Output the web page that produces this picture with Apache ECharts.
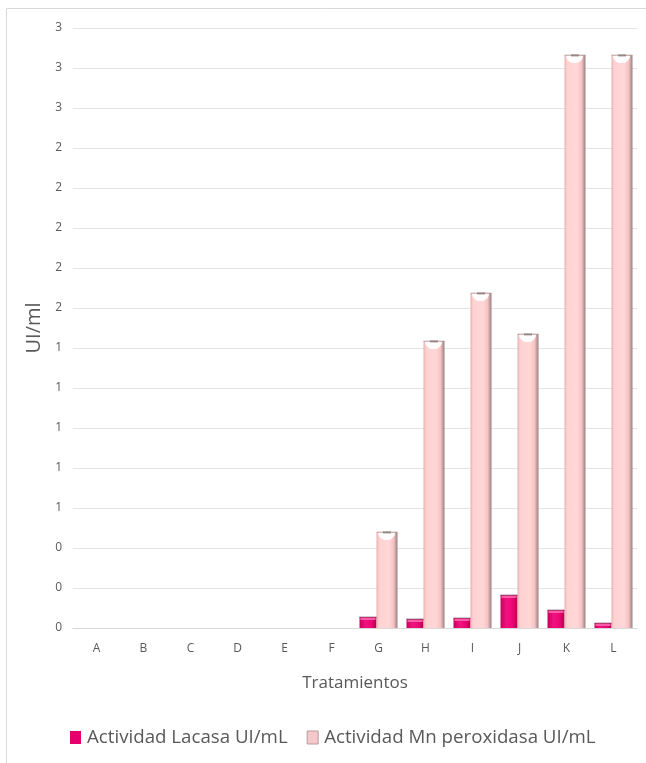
<!DOCTYPE html>
<html>
<head>
<meta charset="utf-8">
<script src="https://cdn.jsdelivr.net/npm/echarts@6/dist/echarts.min.js"></script>
<style>
  html, body { margin: 0; padding: 0; background: #ffffff; }
  #chart { width: 646px; height: 763px; }
</style>
</head>
<body>
<div id="chart"></div>
<script>
// Tratamientos (eje X)
const categories = ['A', 'B', 'C', 'D', 'E', 'F', 'G', 'H', 'I', 'J', 'K', 'L'];
// Actividad enzimática (UI/mL) por tratamiento
const lacasa = [0, 0, 0, 0, 0, 0, 0.055, 0.045, 0.05, 0.165, 0.09, 0.025];
const mnPeroxidasa = [0, 0, 0, 0, 0, 0, 0.48, 1.435, 1.675, 1.47, 2.865, 2.865];
// Nombres de las series
const seriesNames = ['Actividad Lacasa UI/mL', 'Actividad Mn peroxidasa UI/mL'];

const FONT = '"Open Sans", "Noto Sans", sans-serif';
const LAC_W = 17;
const MN_W = 21;

const chart = echarts.init(document.getElementById('chart'), null, { renderer: 'canvas' });

const lacasaFill = new echarts.graphic.LinearGradient(0, 0, 1, 0, [
  { offset: 0, color: '#C8005C' },
  { offset: 0.35, color: '#F2127F' },
  { offset: 0.7, color: '#EA0874' },
  { offset: 1, color: '#B8004F' }
]);
const mnFill = new echarts.graphic.LinearGradient(0, 0, 1, 0, [
  { offset: 0, color: '#E8AEAE' },
  { offset: 0.12, color: '#FFD2D2' },
  { offset: 0.6, color: '#FFD6D6' },
  { offset: 0.82, color: '#F4C2C2' },
  { offset: 1, color: '#978080' }
]);

// Centre of each bar within a category group
function mnCentre(catX) {
  return catX - (LAC_W + MN_W) / 2 + LAC_W + MN_W / 2;
}
function lacCentre(catX) {
  return catX - (LAC_W + MN_W) / 2 + LAC_W / 2;
}

// Cap drawn on top of each Mn peroxidasa bar (highlight + rim)
function renderMnCap(params, api) {
  const v = api.value(1);
  if (!v) return null;
  const top = api.coord([api.value(0), v]);
  const mid = mnCentre(top[0]);
  const l = mid - MN_W / 2 + 1.5;
  const r = mid + MN_W / 2 - 2.5;
  const y = top[1];
  const c = (l + r) / 2;
  return {
    type: 'group',
    children: [
      {
        type: 'path',
        shape: {
          pathData: 'M' + l + ' ' + (y + 1) +
            ' L' + r + ' ' + (y + 1) +
            ' Q' + r + ' ' + (y + 5) + ' ' + (c + 3) + ' ' + (y + 8) +
            ' L' + (c - 3) + ' ' + (y + 8) +
            ' Q' + l + ' ' + (y + 5) + ' ' + l + ' ' + (y + 1) + ' Z'
        },
        style: { fill: '#FFFFFF', opacity: 0.95 }
      },
      {
        type: 'rect',
        shape: { x: mid - 4, y: y - 0.5, width: 8, height: 1.8 },
        style: { fill: '#7A7070' }
      },
      {
        type: 'rect',
        shape: { x: l - 1.5, y: y - 0.3, width: r - l + 4, height: 0.8 },
        style: { fill: '#B09A9A' }
      }
    ]
  };
}

// Lighter top face on each Lacasa bar
function renderLacCap(params, api) {
  const v = api.value(1);
  if (!v) return null;
  const top = api.coord([api.value(0), v]);
  const mid = lacCentre(top[0]);
  const y = top[1];
  return {
    type: 'group',
    children: [
      {
        type: 'rect',
        shape: { x: mid - LAC_W / 2 + 1, y: y + 0.5, width: LAC_W - 2, height: 2.5 },
        style: { fill: '#FF5AA8' }
      },
      {
        type: 'rect',
        shape: { x: mid - LAC_W / 2, y: y - 0.3, width: LAC_W, height: 0.9 },
        style: { fill: '#8A4060' }
      }
    ]
  };
}

chart.setOption({
  animation: false,
  backgroundColor: '#ffffff',
  graphic: [
    {
      type: 'rect',
      shape: { x: 6.5, y: 8.5, width: 700, height: 800 },
      style: { fill: 'none', stroke: '#D9D9D9', lineWidth: 1 },
      z: -1
    }
  ],
  grid: { left: 73, right: 9, top: 28, bottom: 135 },
  legend: {
    data: [
      { name: seriesNames[0], itemStyle: { color: '#E6006E', borderWidth: 0 } },
      { name: seriesNames[1], itemStyle: { color: '#F5C9C9', borderColor: '#B99999', borderWidth: 1 } }
    ],
    bottom: 11,
    left: 65,
    icon: 'rect',
    itemWidth: 11,
    itemHeight: 13,
    itemGap: 19,
    textStyle: { fontFamily: FONT, fontSize: 18.7, color: '#595959', padding: [0, 0, 0, 1] }
  },
  xAxis: {
    type: 'category',
    data: categories,
    name: 'Tratamientos',
    nameLocation: 'middle',
    nameGap: 47,
    nameTextStyle: { fontFamily: FONT, fontSize: 17, color: '#595959' },
    axisLine: { show: true, lineStyle: { color: '#D9D9D9' } },
    axisTick: { show: false },
    axisLabel: { fontFamily: FONT, fontSize: 12, color: '#595959', margin: 15 }
  },
  yAxis: {
    type: 'value',
    min: 0,
    max: 3,
    interval: 0.2,
    name: 'UI/ml',
    nameLocation: 'middle',
    nameGap: 26,
    nameTextStyle: { fontFamily: FONT, fontSize: 20, color: '#595959' },
    axisLine: { show: false },
    axisTick: { show: false },
    axisLabel: {
      fontFamily: FONT, fontSize: 12, color: '#595959', margin: 11,
      formatter: v => String(Math.round(v))
    },
    splitLine: { lineStyle: { color: '#E3E3E3', width: 1 } }
  },
  series: [
    {
      name: seriesNames[0],
      type: 'bar',
      data: lacasa,
      barWidth: LAC_W,
      barGap: 0,
      itemStyle: { color: lacasaFill, borderWidth: 0 }
    },
    {
      name: seriesNames[1],
      type: 'bar',
      data: mnPeroxidasa,
      barWidth: MN_W,
      barGap: 0,
      itemStyle: { color: mnFill, borderWidth: 0 }
    },
    {
      type: 'custom',
      name: 'lacCap',
      renderItem: renderLacCap,
      data: lacasa.map((v, i) => [i, v]),
      encode: { x: 0, y: 1 },
      silent: true,
      z: 5
    },
    {
      type: 'custom',
      name: 'mnCap',
      renderItem: renderMnCap,
      data: mnPeroxidasa.map((v, i) => [i, v]),
      encode: { x: 0, y: 1 },
      silent: true,
      z: 5
    }
  ]
});
</script>
</body>
</html>
